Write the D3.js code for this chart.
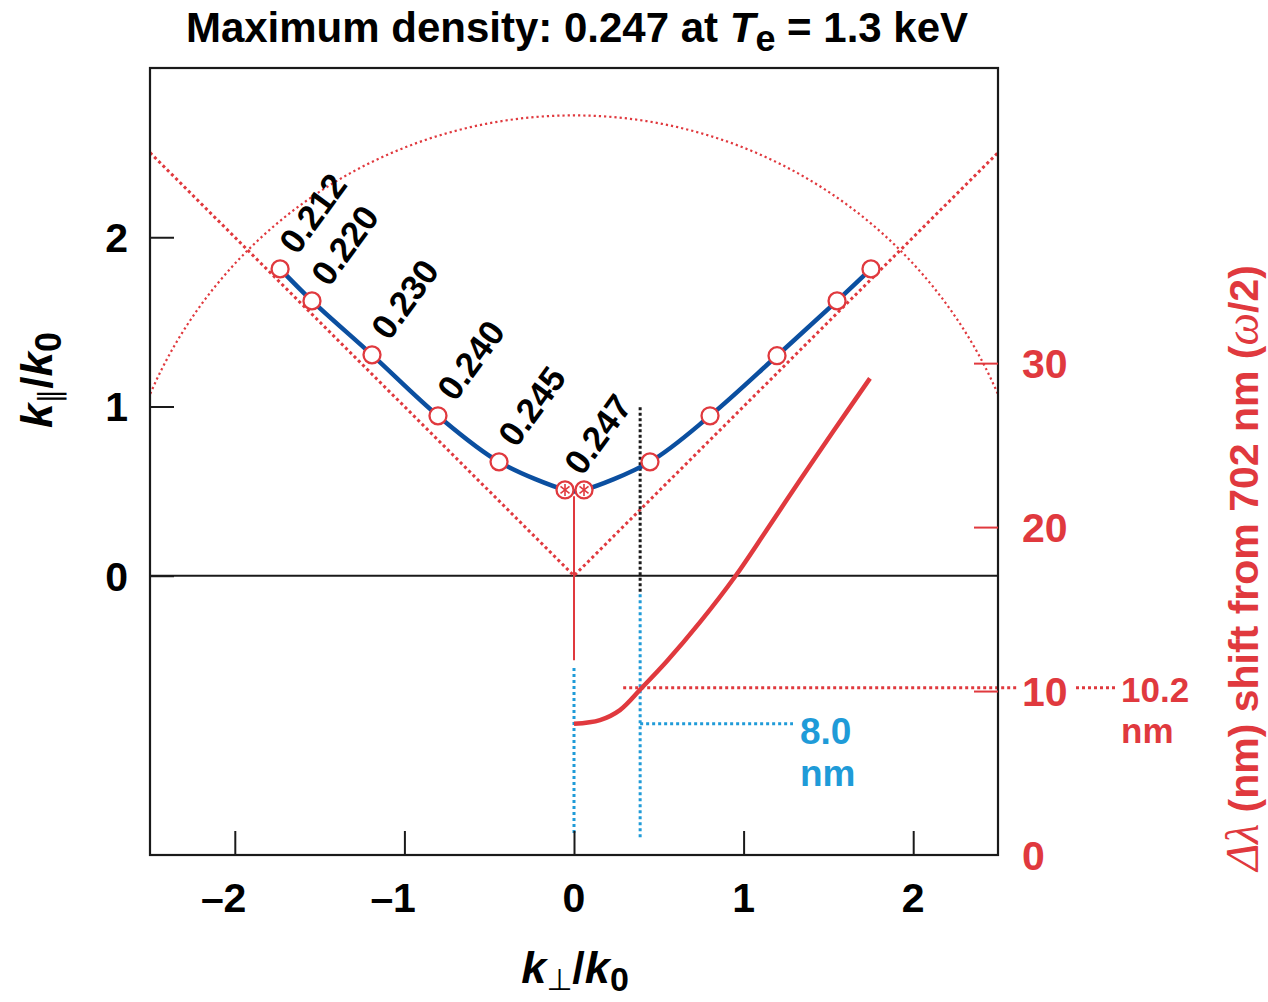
<!DOCTYPE html>
<html><head><meta charset="utf-8">
<script src="https://cdn.jsdelivr.net/npm/d3@7"></script>
<style>
body{margin:0;background:#fff;}
text{font-family:"Liberation Sans",Arial,Helvetica,sans-serif;font-weight:bold;}
</style></head><body>
<svg id="chart" width="1268" height="1002"></svg>
<script>
// Dispersion curve: k_parallel/k0 against k_perp/k0
const curvePerp = [-1.733,-1.545,-1.191,-0.802,-0.442,-0.053,0.0,0.059,0.448,0.802,1.197,1.551,1.751];
const curvePar  = [1.813,1.624,1.305,0.945,0.673,0.507,0.498,0.507,0.673,0.945,1.300,1.624,1.813];

// Marked points along the curve (starred ones sit at the maximum density)
const markPerp = [-1.733,-1.545,-1.191,-0.802,-0.442,-0.053,0.059,0.448,0.802,1.197,1.551,1.751];
const markPar  = [1.813,1.624,1.305,0.945,0.673,0.507,0.507,0.673,0.945,1.300,1.624,1.813];
const markStar = [false,false,false,false,false,true,true,false,false,false,false,false];
const densityLabels = ["0.212","0.220","0.230","0.240","0.245","0.247"];

// Wavelength shift (right axis, nm) against k_perp/k0
const shiftPerp = [0.0,0.153,0.271,0.40,0.546,0.743,0.949,1.136,1.333,1.527,1.745];
const shiftNm   = [8.0,8.23,8.84,10.2,11.8,14.2,16.97,19.82,22.87,25.81,29.07];

// Guide lines
const diagPerp = [-2.5,0,2.5];
const diagPar  = [2.5,0,2.5];
const arcRadius = 2.72;
const cutoffPerp = 0.39;
const shiftAtZero = 8.0;
const shiftAtCutoff = 10.2;

// Axes
const xTicks = [-2,-1,0,1,2];
const yTicks = [0,1,2];
const rTicks = [0,10,20,30];

const RED = "#e0393e", BLUE = "#0b4fa0", LBLUE = "#1f9bd8", INK = "#1a1a1a";

const svg = d3.select("#chart");
const L = 150, R = 998, T = 68, B = 855;
const x = d3.scaleLinear().domain([-2.5,2.5]).range([L,R]);
const y = d3.scaleLinear().domain([-1.65,3.0]).range([B,T]);
const yR = d3.scaleLinear().domain([0,48]).range([B,T]);

svg.append("defs").append("clipPath").attr("id","plotClip")
  .append("rect").attr("x",L).attr("y",T).attr("width",R-L).attr("height",B-T);

const plot = svg.append("g").attr("clip-path","url(#plotClip)");

// zero line
plot.append("line").attr("x1",L).attr("x2",R).attr("y1",y(0)).attr("y2",y(0))
  .attr("stroke",INK).attr("stroke-width",2);

// light-cone diagonals
plot.append("path")
  .attr("d", d3.line().x((d,i)=>x(diagPerp[i])).y((d,i)=>y(diagPar[i]))(diagPerp))
  .attr("fill","none").attr("stroke",RED).attr("stroke-width",3)
  .attr("stroke-dasharray","3,3");

// circle of constant |k|
const arcAngles = d3.range(0, 181, 1);
plot.append("path")
  .attr("d", d3.line()
    .x(a=>x(arcRadius*Math.cos(a*Math.PI/180)))
    .y(a=>y(arcRadius*Math.sin(a*Math.PI/180)))(arcAngles))
  .attr("fill","none").attr("stroke",RED).attr("stroke-width",2.2)
  .attr("stroke-dasharray","2.2,3");

// cutoff marker (black dotted above, blue dotted below)
plot.append("line").attr("x1",x(cutoffPerp)).attr("x2",x(cutoffPerp))
  .attr("y1",y(0.995)).attr("y2",y(-0.095))
  .attr("stroke",INK).attr("stroke-width",3).attr("stroke-dasharray","3,2.5");
plot.append("line").attr("x1",x(cutoffPerp)).attr("x2",x(cutoffPerp))
  .attr("y1",y(-0.11)).attr("y2",y(-1.55))
  .attr("stroke",LBLUE).attr("stroke-width",3).attr("stroke-dasharray","3,3");
plot.append("line").attr("x1",x(0)).attr("x2",x(0))
  .attr("y1",y(-0.545)).attr("y2",y(-1.53))
  .attr("stroke",LBLUE).attr("stroke-width",3).attr("stroke-dasharray","3,3");

// drop line from the maximum density point
plot.append("line").attr("x1",x(0)).attr("x2",x(0))
  .attr("y1",y(0.47)).attr("y2",y(-0.5))
  .attr("stroke",RED).attr("stroke-width",2);

// 8.0 nm leader
svg.append("line").attr("x1",x(cutoffPerp)).attr("x2",793)
  .attr("y1",yR(shiftAtZero)).attr("y2",yR(shiftAtZero))
  .attr("stroke",LBLUE).attr("stroke-width",3).attr("stroke-dasharray","3,3");

// 10.2 nm leader
svg.append("line").attr("x1",x(0.29)).attr("x2",R+19)
  .attr("y1",yR(shiftAtCutoff)).attr("y2",yR(shiftAtCutoff))
  .attr("stroke",RED).attr("stroke-width",3).attr("stroke-dasharray","3,3");
svg.append("line").attr("x1",R+78).attr("x2",R+117)
  .attr("y1",yR(shiftAtCutoff)).attr("y2",yR(shiftAtCutoff))
  .attr("stroke",RED).attr("stroke-width",3).attr("stroke-dasharray","3,3");

// wavelength shift curve
plot.append("path")
  .attr("d", d3.line().curve(d3.curveCatmullRom.alpha(0.5))
    .x((d,i)=>x(shiftPerp[i])).y((d,i)=>yR(shiftNm[i]))(shiftPerp))
  .attr("fill","none").attr("stroke",RED).attr("stroke-width",4.5);

// dispersion curve
plot.append("path")
  .attr("d", d3.line().curve(d3.curveCatmullRom.alpha(0.5))
    .x((d,i)=>x(curvePerp[i])).y((d,i)=>y(curvePar[i]))(curvePerp))
  .attr("fill","none").attr("stroke",BLUE).attr("stroke-width",4.5);

// markers
const marks = svg.append("g").selectAll("g").data(markPerp).join("g")
  .attr("transform",(d,i)=>`translate(${x(d)},${y(markPar[i])})`);
marks.append("circle").attr("r",8.5).attr("fill","#fff")
  .attr("stroke",RED).attr("stroke-width",2.3);
marks.filter((d,i)=>markStar[i]).each(function(){
  const g = d3.select(this);
  [[0,-6,0,6],[-4.5,-3.5,4.5,3.5],[-4.5,3.5,4.5,-3.5]].forEach(s=>{
    g.append("line").attr("x1",s[0]).attr("y1",s[1]).attr("x2",s[2]).attr("y2",s[3])
      .attr("stroke",RED).attr("stroke-width",1.6);
  });
});

// density labels
svg.append("g").selectAll("text").data(densityLabels).join("text")
  .attr("transform",(d,i)=>`translate(${x(markPerp[i])+17},${y(markPar[i])-13}) rotate(-54)`)
  .attr("font-size",35).attr("fill","#000").text(d=>d);

// frame
svg.append("rect").attr("x",L).attr("y",T).attr("width",R-L).attr("height",B-T)
  .attr("fill","none").attr("stroke",INK).attr("stroke-width",2.2);

// bottom axis
const gx = svg.append("g").attr("transform",`translate(0,${B})`)
  .call(d3.axisBottom(x).tickValues(xTicks).tickSizeInner(-24).tickSizeOuter(0).tickFormat(""));
gx.select(".domain").remove();
gx.selectAll(".tick line").attr("stroke",INK).attr("stroke-width",2);
xTicks.forEach(v=>{
  svg.append("text").attr("x",x(v)).attr("y",912).attr("text-anchor","middle")
    .attr("font-size",41).text(Math.abs(v));
  if (v<0) svg.append("text").attr("x",x(v)-11).attr("y",912).attr("text-anchor","end")
    .attr("font-size",41).text("\u2013");
});

// left axis
const gy = svg.append("g").attr("transform",`translate(${L},0)`)
  .call(d3.axisLeft(y).tickValues(yTicks).tickSizeInner(-24).tickSizeOuter(0).tickFormat(""));
gy.select(".domain").remove();
gy.selectAll(".tick line").attr("stroke",INK).attr("stroke-width",2);
yTicks.forEach(v=>{
  svg.append("text").attr("x",128).attr("y",y(v)).attr("dy","0.36em")
    .attr("text-anchor","end").attr("font-size",41).text(v);
});

// right axis
const gr = svg.append("g").attr("transform",`translate(${R},0)`)
  .call(d3.axisRight(yR).tickValues(rTicks.filter(v=>v>0)).tickSizeInner(-24).tickSizeOuter(0).tickFormat(""));
gr.select(".domain").remove();
gr.selectAll(".tick line").attr("stroke",RED).attr("stroke-width",2);
rTicks.forEach(v=>{
  svg.append("text").attr("x",1022).attr("y",yR(v)).attr("dy","0.36em")
    .attr("font-size",41).attr("fill",RED).text(v);
});

// annotations
svg.append("text").attr("x",800).attr("y",744).attr("font-size",37).attr("fill",LBLUE).text("8.0");
svg.append("text").attr("x",800).attr("y",786).attr("font-size",37).attr("fill",LBLUE).text("nm");
svg.append("text").attr("x",1121).attr("y",702).attr("font-size",35).attr("fill",RED).text("10.2");
svg.append("text").attr("x",1121).attr("y",743).attr("font-size",35).attr("fill",RED).text("nm");

// title
const title = svg.append("text").attr("x",577).attr("y",42).attr("text-anchor","middle").attr("font-size",42);
title.append("tspan").text("Maximum density: 0.247 at ");
title.append("tspan").attr("font-style","italic").text("T");
title.append("tspan").attr("font-size",36).attr("dy",9).text("e");
title.append("tspan").attr("dy",-9).text(" = 1.3 keV");

// x-axis title
const xt = svg.append("text").attr("x",575).attr("y",983).attr("text-anchor","middle").attr("font-size",45);
xt.append("tspan").attr("font-style","italic").text("k");
xt.append("tspan").attr("font-family","DejaVu Sans").attr("font-weight","normal").attr("font-size",30).attr("dy",7).text("\u22A5");
xt.append("tspan").attr("dy",-7).text("/");
xt.append("tspan").attr("font-style","italic").text("k");
xt.append("tspan").attr("font-size",34).attr("dy",8).text("0");

// y-axis title
const yt = svg.append("text").attr("transform","translate(52,380) rotate(-90)")
  .attr("text-anchor","middle").attr("font-size",44);
yt.append("tspan").attr("font-style","italic").text("k");
yt.append("tspan").attr("font-family","DejaVu Sans").attr("font-weight","normal").attr("font-size",30).attr("dy",8).text("\u2225");
yt.append("tspan").attr("dy",-8).text("/");
yt.append("tspan").attr("font-style","italic").text("k");
yt.append("tspan").attr("font-size",36).attr("dy",9).text("0");

// right-axis title
const rt = svg.append("text").attr("transform","translate(1258,568) rotate(-90)")
  .attr("text-anchor","middle").attr("font-size",41).attr("fill",RED);
rt.append("tspan").attr("font-family","Liberation Serif").attr("font-style","italic").attr("font-weight","normal").attr("font-size",46).text("\u0394\u03BB");
rt.append("tspan").text(" (nm) shift from 702 nm (");
rt.append("tspan").attr("font-family","Liberation Serif").attr("font-style","italic").attr("font-weight","normal").attr("font-size",46).text("\u03C9");
rt.append("tspan").text("/2)");
</script>
</body></html>
